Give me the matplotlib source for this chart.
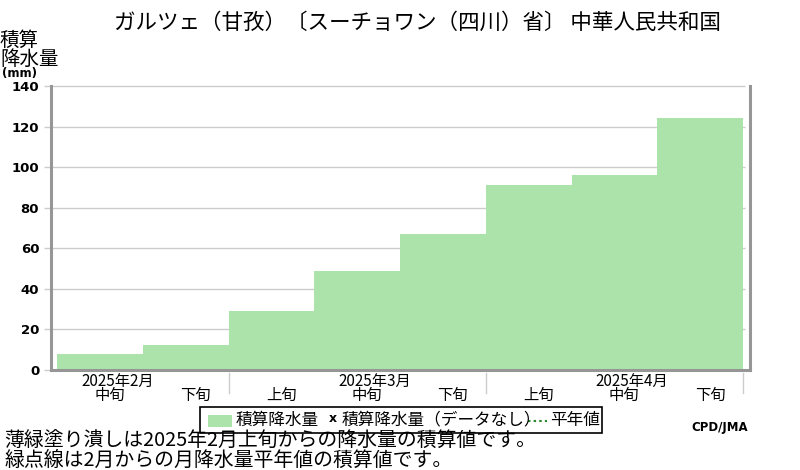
import numpy as np
import matplotlib
matplotlib.use('Agg')
import matplotlib.pyplot as plt
from matplotlib.patches import Rectangle
from matplotlib.lines import Line2D

plt.rcParams['font.family'] = ['Noto Sans CJK JP', 'DejaVu Sans']

# ---- data ----
title = "ガルツェ（甘孜）〔スーチョワン（四川）省〕 中華人民共和国"
dekad_labels = ["中旬", "下旬", "上旬", "中旬", "下旬", "上旬", "中旬", "下旬"]
accum_precip = [7.8, 12.3, 28.9, 49.0, 67.2, 91.2, 96.1, 124.1]
month_labels = ["2025年2月", "2025年3月", "2025年4月"]
month_label_idx = [0, 3, 6]
month_bounds = [2, 5, 8]
yticks = [0, 20, 40, 60, 80, 100, 120, 140]
note1 = "薄緑塗り潰しは2025年2月上旬からの降水量の積算値です。"
note2 = "緑点線は2月からの月降水量平年値の積算値です。"

W, H = 800, 470
fig = plt.figure(figsize=(W / 100, H / 100), dpi=100)


def fx(px):
    return px / W


def fy(py):
    return 1 - py / H


ax_l, ax_r, ax_t, ax_b = 51, 750, 86, 370
ax = fig.add_axes([fx(ax_l), fy(ax_b), (ax_r - ax_l) / W, (ax_b - ax_t) / H])

green = '#abe3ab'
n = len(accum_precip)
x = np.arange(n)
ax.bar(x, accum_precip, width=1.0, align='edge', color=green, zorder=3, linewidth=0)

bar_px = (743 - 57) / n
ax.set_xlim(-(57 - ax_l) / bar_px, n + (ax_r - 743) / bar_px)
ax.set_ylim(0, 140)

for s in ['left', 'right', 'bottom']:
    ax.spines[s].set_color('#969696')
    ax.spines[s].set_linewidth(2.2)
    ax.spines[s].set_zorder(5)
ax.spines['top'].set_visible(False)

# gridlines (extend slightly left as tick marks)
ax.hlines(yticks, -7 / (ax_r - ax_l), (745 - ax_l) / (ax_r - ax_l),
          transform=ax.get_yaxis_transform(), colors='#cccccc', lw=1.0,
          zorder=1, clip_on=False)

ax.set_xticks([])
ax.set_yticks(yticks)
ax.set_yticklabels([str(v) for v in yticks], fontweight='bold',
                   fontsize=9.5, family='DejaVu Sans')
ax.tick_params(axis='y', length=0, pad=8.5)


def yfrac(py):
    return (ax_b - py) / (ax_b - ax_t)


for i, lab in enumerate(dekad_labels):
    ax.text(i + 0.5 + 0.115, yfrac(395), lab, transform=ax.get_xaxis_transform(),
            ha='center', va='center', fontsize=11)
for lab, idx in zip(month_labels, month_label_idx):
    ax.text(idx + 0.5 + 0.205, yfrac(381), lab, transform=ax.get_xaxis_transform(),
            ha='center', va='center', fontsize=11)
for b in month_bounds:
    ax.plot([b, b], [yfrac(373), yfrac(393)], transform=ax.get_xaxis_transform(),
            color='#cccccc', lw=1.0, clip_on=False)

# title
fig.text(fx(417), fy(23), title, ha='center', va='center', fontsize=15.5)

# y label
fig.text(fx(0), fy(40), "積算", ha='left', va='center', fontsize=14)
fig.text(fx(0), fy(59), "降水量", ha='left', va='center', fontsize=14)
fig.text(fx(2), fy(73), "(mm)", ha='left', va='center', fontsize=8.5,
         fontweight='bold', family='DejaVu Sans')

# legend (manual)
fig.patches.append(Rectangle((fx(200), fy(433)), (602 - 200) / W, (433 - 407) / H,
                             transform=fig.transFigure, fill=False,
                             edgecolor='black', lw=1.2))
fig.patches.append(Rectangle((fx(208), fy(427)), 24 / W, 12 / H,
                             transform=fig.transFigure, color=green, lw=0))
fig.text(fx(236), fy(420), "積算降水量", ha='left', va='center', fontsize=12)
fig.text(fx(333), fy(419), "x", ha='center', va='center', fontsize=9,
         fontweight='bold', family='DejaVu Sans')
fig.text(fx(342), fy(420), "積算降水量（データなし）", ha='left', va='center', fontsize=12)
fig.lines.append(Line2D([fx(528), fx(547)], [fy(421), fy(421)],
                        transform=fig.transFigure, color='#2a8a2a',
                        ls=(0, (1.2, 1.5)), lw=1.5))
fig.text(fx(550), fy(420), "平年値", ha='left', va='center', fontsize=12)

fig.text(fx(748), fy(427), "CPD/JMA", ha='right', va='center', fontsize=8.5,
         fontweight='bold', family='DejaVu Sans')

# notes
fig.text(fx(4), fy(441), note1, ha='left', va='center', fontsize=14.3)
fig.text(fx(4), fy(460), note2, ha='left', va='center', fontsize=14.3)

fig.savefig('out.png', dpi=100)
